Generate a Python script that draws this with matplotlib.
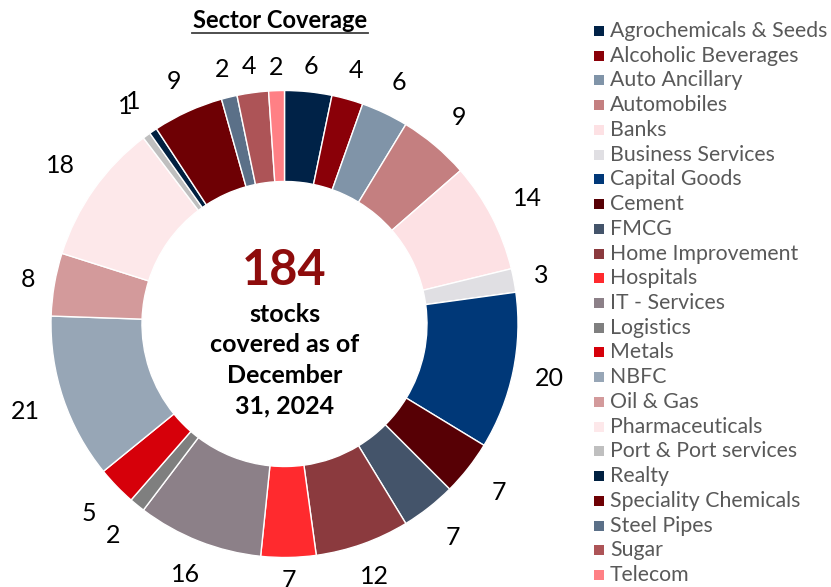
import numpy as np
import matplotlib
matplotlib.use('Agg')
import matplotlib.pyplot as plt
from matplotlib.patches import Rectangle

plt.rcParams['font.family'] = ['Lato', 'DejaVu Sans']

# data
sectors = ['Agrochemicals & Seeds', 'Alcoholic Beverages', 'Auto Ancillary', 'Automobiles',
           'Banks', 'Business Services', 'Capital Goods', 'Cement', 'FMCG',
           'Home Improvement', 'Hospitals', 'IT - Services', 'Logistics', 'Metals',
           'NBFC', 'Oil & Gas', 'Pharmaceuticals', 'Port & Port services', 'Realty',
           'Speciality Chemicals', 'Steel Pipes', 'Sugar', 'Telecom']
stocks = [6, 4, 6, 9, 14, 3, 20, 7, 7, 12, 7, 16, 2, 5, 21, 8, 18, 1, 1, 9, 2, 4, 2]
colors = ['#002247', '#8A0008', '#8094A8', '#C47F80', '#FDE1E4', '#E0DFE3', '#003878',
          '#570005', '#44546A', '#8B3A3E', '#FF2A2E', '#8C8088', '#7F7F7F', '#D6000A',
          '#97A6B6', '#D39A9B', '#FDE8EA', '#BFBFBF', '#002040', '#6E0004', '#5B7088',
          '#AD5457', '#FF8085']
total = sum(stocks)
as_of = 'December\n31, 2024'

W, H = 831, 587
fig = plt.figure(figsize=(W / 100, H / 100), dpi=100)
ax = fig.add_axes([0, 0, 1, 1])

# work in pixel units, y measured from the bottom
cx, cy = 284.5, H - 324
R = 233.5
ring = 91

wedges, _ = ax.pie(stocks, colors=colors, startangle=90, counterclock=False,
                   radius=R, center=(cx, cy), frame=True,
                   wedgeprops=dict(width=ring, edgecolor='white', linewidth=1))

# value labels just outside the ring (roughly how excel spaces them)
cum = np.cumsum(stocks) - np.array(stocks) / 2
for v, c in zip(stocks, cum):
    theta = 2 * np.pi * c / total          # clockwise from the top
    ux, uy = np.sin(theta), np.cos(theta)
    d = R + 22 + 15 * abs(np.sin(2 * theta)) + 6 * (len(str(v)) - 1) * abs(ux)
    if uy < 0:
        d += 3 * abs(ux)
    ax.text(cx + d * ux, cy + d * uy, str(v), ha='center', va='center',
            fontsize=18, color='black')

# centre text
ax.text(cx, H - 285, str(total), ha='center', va='baseline', fontsize=35,
        fontweight='bold', color='#8E0C0C')
ax.text(cx, H - 360, 'stocks\ncovered as of\n' + as_of, ha='center', va='center',
        fontsize=18, fontweight='bold', color='black', linespacing=1.4)

# title with underline
ax.text(280, H - 28, 'Sector Coverage', ha='center', va='baseline', fontsize=17,
        fontweight='bold', color='black')
ax.plot([192, 368], [H - 32.5, H - 32.5], color='#404040', lw=1.3)

# legend
y0, step = 31, (575 - 31) / 22
for i, (name, col) in enumerate(zip(sectors, colors)):
    y = H - (y0 + i * step)
    ax.add_patch(Rectangle((594, y - 5), 10, 10, facecolor=col, edgecolor='none'))
    ax.text(610, y, name, ha='left', va='center', fontsize=15.3, color='#595959')

ax.set_xlim(0, W)
ax.set_ylim(0, H)
ax.set_aspect('equal')
ax.axis('off')

fig.savefig('out.png', dpi=100)
